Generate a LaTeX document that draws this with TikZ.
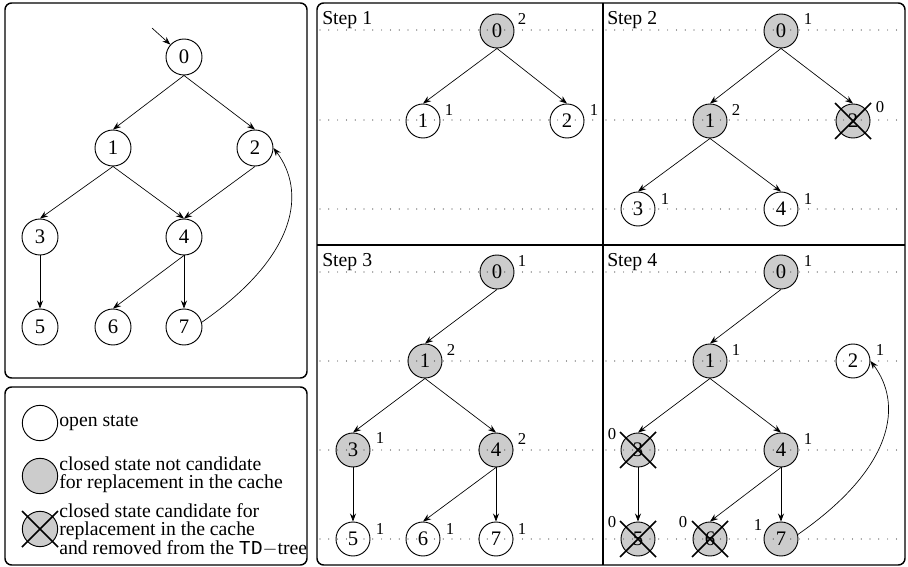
\documentclass[tikz,border=0pt]{standalone}
\usepackage{fontspec}
\setmainfont{Liberation Serif}
\setmonofont{Liberation Mono}
\usetikzlibrary{arrows.meta}
\newcommand\crossnode[1]{\draw[xl] ([shift={(-18,-18)}]#1.center) -- ([shift={(18,18)}]#1.center) ([shift={(-18,18)}]#1.center) -- ([shift={(18,-18)}]#1.center);}
\begin{document}
\begin{tikzpicture}[x=0.75pt,y=-0.75pt,
  st/.style={circle,draw,line width=0.7pt,minimum size=25.5pt,inner sep=0pt,font=\fontsize{15.5}{17}\selectfont},
  cl/.style={st,fill=black!20},
  big/.style={minimum size=27pt},
  num/.style={font=\fontsize{12.5}{13}\selectfont,inner sep=0pt},
  txt/.style={font=\fontsize{14.8}{13.3}\selectfont,inner sep=0pt,align=left,anchor=west},
  edge/.style={-{Stealth[length=6pt,width=4.5pt]},line width=0.5pt},
  dots/.style={line width=0.9pt,line cap=round,dash pattern=on 0pt off 6.6pt,black!75},
  box/.style={rounded corners=5pt,line width=1.1pt},
  xl/.style={line width=1.2pt}]
\useasboundingbox (0,0) rectangle (908,567);

% ---------- left graph ----------
\draw[box] (5,3) rectangle (307,378);
\node[st,big] (L0) at (184,57) {0};
\node[st,big] (L1) at (113,148) {1};
\node[st,big] (L2) at (255,148) {2};
\node[st,big] (L3) at (40,237) {3};
\node[st,big] (L4) at (184,237) {4};
\node[st,big] (L5) at (40,327) {5};
\node[st,big] (L6) at (113,327) {6};
\node[st,big] (L7) at (184,327) {7};
\coordinate (Lin) at (152,28);
\draw[edge] (Lin) -- (L0);
\draw[edge] (L0.south) -- (L1.north);
\draw[edge] (L0.south) -- (L2.north);
\draw[edge] (L1.south) -- (L3.north);
\draw[edge] (L1.south) -- (L4.north);
\draw[edge] (L2.south) -- (L4.north);
\draw[edge] (L3.south) -- (L5.north);
\draw[edge] (L4.south) -- (L6.north);
\draw[edge] (L4.south) -- (L7.north);
\draw[edge] (L7.15) .. controls +(98,-68) and +(32,42) .. (L2.east);

% ---------- legend ----------
\draw[box] (5,387) rectangle (307,565);
\node[st,minimum size=26.5pt] (G1) at (40,423) {};
\node[txt] (T1) at (59,423) {open state};
\node[cl,minimum size=26.5pt] (G2) at (40,476) {};
\node[txt] (T2) at (59,475) {closed state not candidate\\for replacement in the cache};
\node[cl,minimum size=26.5pt] (G3) at (40,529) {};
\crossnode{G3}
\node[txt] (T3) at (59,530) {closed state candidate for\\replacement in the cache\\and removed from the {\ttfamily TD}$-$tree};

% ---------- step panels frame ----------
\draw[box] (317,3) rectangle (905,565);
\draw[line width=0.8pt] (603,3) -- (603,565);
\draw[line width=0.8pt] (317,245) -- (905,245);
\node[txt,anchor=base west] (H1) at (322,25) {Step 1};
\node[txt,anchor=base west] (H2) at (607,25) {Step 2};
\node[txt,anchor=base west] (H3) at (322,267) {Step 3};
\node[txt,anchor=base west] (H4) at (607,267) {Step 4};

% ---------- step 1 ----------
\node[cl] (A0) at (497,31) {0};
\node[st] (A1) at (423,121) {1};
\node[st] (A2) at (567,121) {2};
\node[num] (a0) at (522,19) {2};
\node[num] (a1) at (449,110) {1};
\node[num] (a2) at (594,110) {1};
\draw[edge] (A0.south) -- (A1.north);
\draw[edge] (A0.south) -- (A2.north);
\draw[dots] (320,30) -- (601,30) (320,120) -- (601,120) (320,209) -- (601,209);

% ---------- step 2 ----------
\node[cl] (B0) at (781,31) {0};
\node[cl] (B1) at (710,121) {1};
\node[cl] (B2) at (853,121) {2};
\node[st] (B3) at (638,209) {3};
\node[st] (B4) at (781,209) {4};
\node[num] (b0) at (808,19) {1};
\node[num] (b1) at (736,110) {2};
\node[num] (b2) at (880,107) {0};
\node[num] (b3) at (665,199) {1};
\node[num] (b4) at (808,199) {1};
\draw[edge] (B0.south) -- (B1.north);
\draw[edge] (B0.south) -- (B2.north);
\draw[edge] (B1.south) -- (B3.north);
\draw[edge] (B1.south) -- (B4.north);
\draw[dots] (606,30) -- (902,30) (606,120) -- (902,120) (606,209) -- (902,209);
\crossnode{B2}

% ---------- step 3 ----------
\node[cl] (C0) at (497,272) {0};
\node[cl] (C1) at (425,361) {1};
\node[cl] (C3) at (353,450) {3};
\node[cl] (C4) at (496,450) {4};
\node[st] (C5) at (353,539) {5};
\node[st] (C6) at (423,539) {6};
\node[st] (C7) at (496,539) {7};
\node[num] (c0) at (522,261) {1};
\node[num] (c1) at (451,350) {2};
\node[num] (c3) at (380,438) {1};
\node[num] (c4) at (522,439) {2};
\node[num] (c5) at (380,529) {1};
\node[num] (c6) at (450,529) {1};
\node[num] (c7) at (522,529) {1};
\draw[edge] (C0.south) -- (C1.north);
\draw[edge] (C1.south) -- (C3.north);
\draw[edge] (C1.south) -- (C4.north);
\draw[edge] (C3.south) -- (C5.north);
\draw[edge] (C4.south) -- (C6.north);
\draw[edge] (C4.south) -- (C7.north);
\draw[dots] (320,272) -- (601,272) (320,361) -- (601,361) (320,450) -- (601,450) (320,539) -- (601,539);

% ---------- step 4 ----------
\node[cl] (D0) at (781,272) {0};
\node[cl] (D1) at (710,361) {1};
\node[st] (D2) at (853,361) {2};
\node[cl] (D3) at (638,450) {3};
\node[cl] (D4) at (781,450) {4};
\node[cl] (D5) at (638,539) {5};
\node[cl] (D6) at (710,539) {6};
\node[cl] (D7) at (781,539) {7};
\node[num] (d0) at (808,261) {1};
\node[num] (d1) at (736,350) {1};
\node[num] (d2) at (880,350) {1};
\node[num] (d3) at (612,434) {0};
\node[num] (d4) at (808,439) {1};
\node[num] (d5) at (612,522) {0};
\node[num] (d6) at (683,522) {0};
\node[num] (d7) at (758,525) {1};
\draw[edge] (D0.south) -- (D1.north);
\draw[edge] (D1.south) -- (D3.north);
\draw[edge] (D1.south) -- (D4.north);
\draw[edge] (D3.south) -- (D5.north);
\draw[edge] (D4.south) -- (D6.north);
\draw[edge] (D4.south) -- (D7.north);
\draw[edge] (D7.15) .. controls +(98,-68) and +(32,42) .. (D2.east);
\draw[dots] (606,272) -- (902,272) (606,361) -- (902,361) (606,450) -- (902,450) (606,539) -- (902,539);
\crossnode{D3}
\crossnode{D5}
\crossnode{D6}
\end{tikzpicture}
\end{document}
